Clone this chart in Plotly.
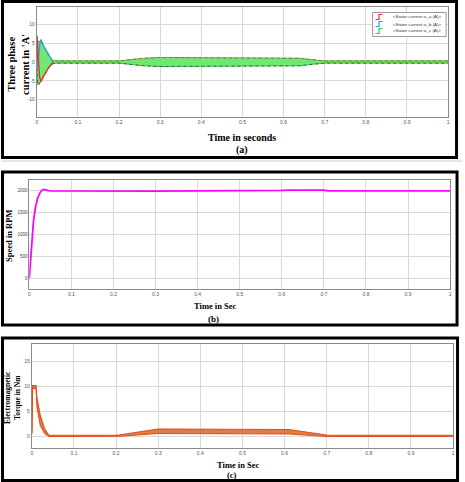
import plotly.graph_objects as go

W, H = 465, 482

# ---------------- data ----------------
# (a) three-phase stator current: band envelope (A)
cur_t  = [0, 0.002, 0.005, 0.01, 0.02, 0.03, 0.04, 0.05, 0.2, 0.23, 0.26, 0.3, 0.4, 0.5, 0.6, 0.64, 0.67, 0.7, 1.0]
cur_hi = [0, 5.0, 5.5, 5.5, 3.5, 1.6, 0.4, 0.3, 0.3, 0.6, 1.0, 1.2, 1.2, 1.2, 1.2, 1.0, 0.6, 0.3, 0.3]
cur_lo = [0, -6.0, -6.0, -5.0, -3.2, -1.4, -0.4, -0.3, -0.3, -0.6, -1.0, -1.2, -1.2, -1.2, -1.2, -1.0, -0.6, -0.3, -0.3]
# transient peaks of phases a and b
ia_t = [0, 0.0008, 0.003, 0.007, 0.01, 0.02, 0.03, 0.04]
ia   = [0, 7.0, 2.0, -4.0, -5.2, -3.0, -1.3, 0]
ib_t = [0, 0.003, 0.007, 0.01, 0.02, 0.03, 0.04]
ib   = [0, -1.5, 4.5, 6.0, 3.6, 1.6, 0]

# (b) rotor speed (RPM)
spd_t = [0, 0.003, 0.006, 0.01, 0.015, 0.02, 0.025, 0.03, 0.035, 0.04, 0.045, 0.05, 0.2, 0.22, 0.3, 0.6, 0.62, 0.7, 0.71, 1.0]
spd   = [0, 400, 900, 1320, 1640, 1840, 1950, 2015, 2035, 2030, 2008, 2000, 2000, 1988, 1995, 2012, 2020, 2020, 2000, 2000]

# (c) electromagnetic torque (Nm): band envelope
tq_t  = [0, 0.0005, 0.002, 0.01, 0.012, 0.02, 0.03, 0.04, 0.05, 0.2, 0.21, 0.3, 0.6, 0.61, 0.7, 0.71, 1.0]
tq_hi = [0.8, 10.0, 10.2, 10.2, 7.8, 4.2, 1.6, 0.3, 0.25, 0.25, 0.35, 1.5, 1.5, 1.4, 0.3, 0.25, 0.25]
tq_lo = [0.5, 0.6, 9.6, 9.6, 6.0, 2.2, 0.6, 0.0, 0.0, 0.0, 0.05, 0.6, 0.6, 0.5, 0.0, 0.0, 0.0]

x_ticks = [0, 0.1, 0.2, 0.3, 0.4, 0.5, 0.6, 0.7, 0.8, 0.9, 1]
x_ticktext = ["0", "0.1", "0.2", "0.3", "0.4", "0.5", "0.6", "0.7", "0.8", "0.9", "1"]
ya_ticks = [-10, -5, 0, 5, 10]
yb_ticks = [0, 500, 1000, 1500, 2000]
yc_ticks = [0, 5, 10, 15]
legend_names = ["<Stator current is_a (A)>", "<Stator current is_b (A)>", "<Stator current is_c (A)>"]

# ---------------- figure ----------------
fig = go.Figure()

GREEN, GREEN_FILL = "#2fcf3a", "rgba(100,228,100,0.9)"
RED, BLUE = "#e8312a", "#2a9df4"
ORANGE, ORANGE_FILL = "#d95319", "rgba(222,100,40,0.85)"

# (a)
fig.add_trace(go.Scatter(x=cur_t, y=cur_lo, mode="lines", line=dict(color=GREEN, width=1),
                         xaxis="x", yaxis="y", showlegend=False, hoverinfo="skip"))
fig.add_trace(go.Scatter(x=cur_t, y=cur_hi, mode="lines", line=dict(color=GREEN, width=1),
                         fill="tonexty", fillcolor=GREEN_FILL, xaxis="x", yaxis="y",
                         showlegend=False, hoverinfo="skip"))
fig.add_trace(go.Scatter(x=cur_t, y=cur_hi, mode="lines", line=dict(color="#d0473a", width=0.8, dash="dot"),
                         xaxis="x", yaxis="y", showlegend=False, hoverinfo="skip"))
fig.add_trace(go.Scatter(x=cur_t, y=cur_lo, mode="lines", line=dict(color="#444444", width=0.8, dash="dot"),
                         xaxis="x", yaxis="y", showlegend=False, hoverinfo="skip"))
fig.add_trace(go.Scatter(x=ib_t, y=ib, mode="lines", line=dict(color=BLUE, width=1.3),
                         xaxis="x", yaxis="y", showlegend=False))
fig.add_trace(go.Scatter(x=ia_t, y=ia, mode="lines", line=dict(color=RED, width=1.3),
                         xaxis="x", yaxis="y", showlegend=False))

# (b)
fig.add_trace(go.Scatter(x=spd_t, y=spd, mode="lines", line=dict(color="#ff00ff", width=1.8),
                         xaxis="x2", yaxis="y2", showlegend=False))

# (c)
fig.add_trace(go.Scatter(x=tq_t, y=tq_lo, mode="lines", line=dict(color=ORANGE, width=1),
                         xaxis="x3", yaxis="y3", showlegend=False))
fig.add_trace(go.Scatter(x=tq_t, y=tq_hi, mode="lines", line=dict(color=ORANGE, width=1.2),
                         fill="tonexty", fillcolor=ORANGE_FILL, xaxis="x3", yaxis="y3", showlegend=False))


def px(x):
    return x / W


def py(y):
    return 1 - y / H


GRID = "#d9d9d9"
AXC = "#8a8a8a"
TICKF = dict(family="Liberation Sans", size=5, color="#555555")


def xax(dom, anchor):
    return dict(domain=dom, anchor=anchor, range=[0, 1], tickvals=x_ticks, ticktext=x_ticktext,
                showgrid=True, gridcolor=GRID, gridwidth=1, zeroline=False, showline=True,
                linecolor=AXC, linewidth=1, mirror=True, ticks="", tickfont=TICKF,
                ticklabeloverflow="allow")


def yax(dom, anchor, rng, tv, font=TICKF):
    return dict(domain=dom, anchor=anchor, range=rng, tickvals=tv, ticktext=[str(v) for v in tv],
                showgrid=True, gridcolor=GRID, gridwidth=1, zeroline=False, showline=True,
                linecolor=AXC, linewidth=1, mirror=True, ticks="", tickfont=font,
                ticklabeloverflow="allow")


layout = dict(
    width=W, height=H, margin=dict(l=0, r=0, t=0, b=0),
    paper_bgcolor="white", plot_bgcolor="white", showlegend=False,
    xaxis=xax([px(36), px(450)], "y"),
    yaxis=yax([py(117), py(7)], "x", [-14.6, 14.6], ya_ticks),
    xaxis2=xax([px(28.5), px(452)], "y2"),
    yaxis2=yax([py(289), py(180)], "x2", [-250, 2250], yb_ticks,
               dict(family="Liberation Sans", size=4.5, color="#444444")),
    xaxis3=xax([px(31), px(455)], "y3"),
    yaxis3=yax([py(448), py(344)], "x3", [-2.3, 18.5], yc_ticks),
)
fig.update_layout(**layout)

shapes = []
# panel frames
for (x0, y0, x1, y1) in [(1.5, 1.5, 458.5, 157.5), (1.5, 172, 459, 325), (1.5, 338, 459.5, 480.5)]:
    shapes.append(dict(type="rect", xref="paper", yref="paper", x0=px(x0), x1=px(x1), y0=py(y1), y1=py(y0),
                       line=dict(color="black", width=3), fillcolor="rgba(0,0,0,0)", layer="below"))
# faint separator
shapes.append(dict(type="line", xref="paper", yref="paper", x0=0, x1=1, y0=py(161), y1=py(161),
                   line=dict(color="#cccccc", width=1), layer="below"))
# legend box
shapes.append(dict(type="rect", xref="paper", yref="paper", x0=px(374), x1=px(448), y0=py(36.5), y1=py(12.5),
                   line=dict(color="#9a9a9a", width=1), fillcolor="white"))
leg_cols = [RED, BLUE, GREEN]
leg_rows = [17, 24, 31]
annotations = []
for c, yy, name in zip(leg_cols, leg_rows, legend_names):
    path = "M {a},{b} L {c},{b} L {c},{d} L {e},{d}".format(
        a=px(377), b=py(yy + 2.5), c=px(380.5), d=py(yy - 2.5), e=px(384))
    shapes.append(dict(type="path", xref="paper", yref="paper", path=path, line=dict(color=c, width=1.2)))
    annotations.append(dict(xref="paper", yref="paper", x=px(393), y=py(yy), text=name, showarrow=False,
                            xanchor="left", yanchor="middle",
                            font=dict(family="Liberation Sans", size=4.4, color="#333333")))

TITLEF = "Liberation Serif"


def ann(x, y, text, size, angle=0):
    annotations.append(dict(xref="paper", yref="paper", x=px(x), y=py(y), text=text, showarrow=False,
                            xanchor="center", yanchor="middle", textangle=angle,
                            font=dict(family=TITLEF, size=size, color="black")))


ann(18, 64, "<b>Three phase<br>current in 'A'</b>", 10.5, -90)
ann(243, 137, "<b>Time in seconds</b>", 10)
ann(243, 150, "<b>(a)</b>", 10)
ann(8, 236, "<b>Speed in RPM</b>", 8.5, -90)
ann(216, 306, "<b>Time in Sec</b>", 8.5)
ann(214, 318.5, "<b>(b)</b>", 9)
ann(11, 397, "<b>Electromagnetic<br>Torque in Nm</b>", 7.5, -90)
ann(239, 464.5, "<b>Time in Sec</b>", 8.5)
ann(232, 474.5, "<b>(c)</b>", 8.5)

fig.update_layout(shapes=shapes, annotations=annotations)
fig.write_html("out.html")
